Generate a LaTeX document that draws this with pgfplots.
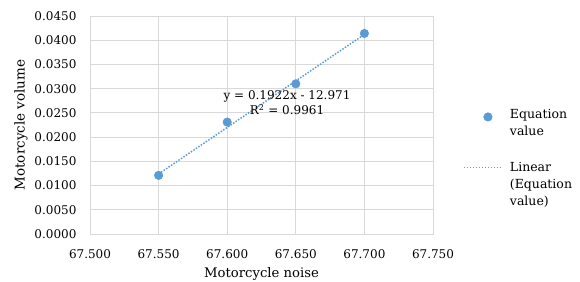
\documentclass[border=0pt]{standalone}
\usepackage{pgfplots}
\pgfplotsset{compat=1.18}
\usepackage{fontspec}
\setmainfont{DejaVu Serif}
\definecolor{ser}{HTML}{5B9BD5}
\definecolor{gridc}{HTML}{D9D9D9}
\begin{document}
\begin{tikzpicture}[x=1pt,y=1pt]
\path[use as bounding box] (0,0) rectangle (580,281);
\begin{axis}[
  at={(90pt,47pt)}, anchor=south west,
  scale only axis, width=343pt, height=218pt,
  xmin=67.5, xmax=67.75, ymin=0, ymax=0.045,
  xtick={67.5,67.55,67.6,67.65,67.7,67.75},
  ytick={0,0.005,0.01,0.015,0.02,0.025,0.03,0.035,0.04,0.045},
  scaled ticks=false,
  xticklabel style={/pgf/number format/fixed, /pgf/number format/fixed zerofill, /pgf/number format/precision=3, yshift=-12pt},
  yticklabel style={/pgf/number format/fixed, /pgf/number format/fixed zerofill, /pgf/number format/precision=4, xshift=-10pt},
  /pgf/number format/assume math mode=true,
  font=\fontsize{12}{14}\selectfont,
  grid=major, major grid style={gridc, line width=0.9pt},
  axis line style={gridc, line width=0.9pt},
  major tick length=0pt,
  xlabel={Motorcycle noise}, ylabel={Motorcycle volume},
  xlabel style={at={([yshift=-40pt]axis description cs:0.5,0)}, anchor=center, font=\fontsize{13.2}{16}\selectfont},
  ylabel style={at={([xshift=-69pt]axis description cs:0,0.5)}, anchor=center, font=\fontsize{13.5}{16}\selectfont},
  legend style={draw=none, fill=none, at={(1,1)}, anchor=north west, xshift=27pt, yshift=-86pt,
    cells={anchor=west}, row sep=25pt, font=\fontsize{12.5}{17}\selectfont},
]
\addplot[only marks, mark=*, mark size=4.3pt, color=ser,
  legend image code/.code={\path[draw=none,fill=none] (0pt,0pt) -- (44pt,0pt);\fill[ser] (24pt,0pt) circle (4.3pt);}]
  coordinates {(67.55,0.0121) (67.60,0.0231) (67.65,0.0310) (67.70,0.0414)};
\addlegendentry{\begin{tabular}{@{}l@{}}Equation\\value\end{tabular}}
\addplot[ser, line width=1.5pt, dash pattern=on 1.5pt off 1.5pt,
  legend image code/.code={\path[draw=none,fill=none] (0pt,-20pt) -- (44pt,20pt);\draw[ser, line width=1.5pt, dash pattern=on 1.5pt off 1.5pt] (0pt,7pt) -- (37pt,7pt);}]
  coordinates {(67.55,0.0124) (67.70,0.0412)};
\addlegendentry{\begin{tabular}{@{}l@{}}Linear\\(Equation\\value)\end{tabular}}
\node[align=center, font=\fontsize{12}{15}\selectfont] at (axis cs:67.6436,0.0271) {y = 0.1922x - 12.971\\R\textsuperscript{2} = 0.9961};
\end{axis}
\end{tikzpicture}
\end{document}
